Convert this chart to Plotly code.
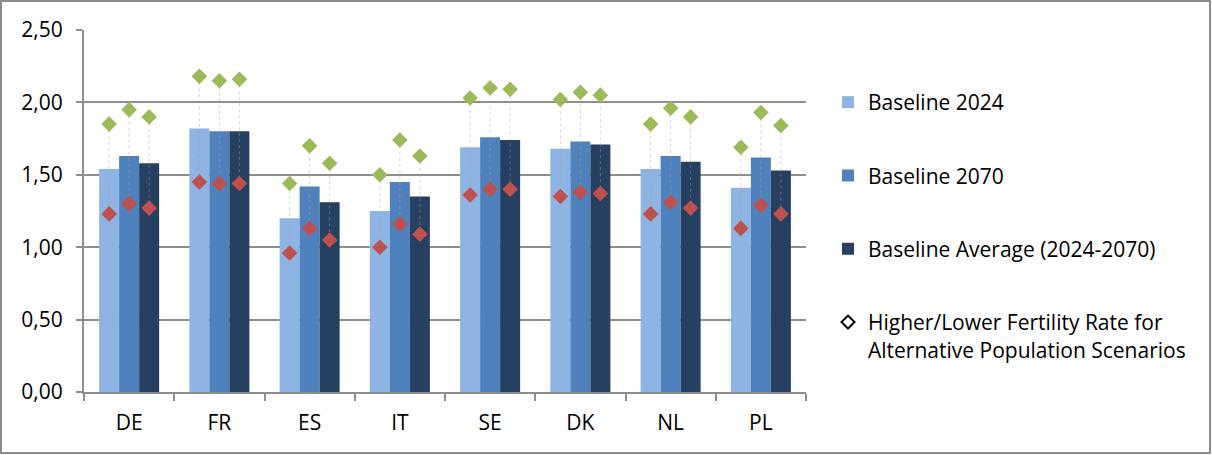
import plotly.graph_objects as go

countries = ["DE", "FR", "ES", "IT", "SE", "DK", "NL", "PL"]

baseline_2024 = [1.54, 1.82, 1.20, 1.25, 1.69, 1.68, 1.54, 1.41]
baseline_2070 = [1.63, 1.80, 1.42, 1.45, 1.76, 1.73, 1.63, 1.62]
baseline_avg = [1.58, 1.80, 1.31, 1.35, 1.74, 1.71, 1.59, 1.53]

higher_2024 = [1.85, 2.18, 1.44, 1.50, 2.03, 2.02, 1.85, 1.69]
higher_2070 = [1.95, 2.15, 1.70, 1.74, 2.10, 2.07, 1.96, 1.93]
higher_avg = [1.90, 2.16, 1.58, 1.63, 2.09, 2.05, 1.90, 1.84]

lower_2024 = [1.23, 1.45, 0.96, 1.00, 1.36, 1.35, 1.23, 1.13]
lower_2070 = [1.30, 1.44, 1.13, 1.16, 1.40, 1.38, 1.31, 1.29]
lower_avg = [1.27, 1.44, 1.05, 1.09, 1.40, 1.37, 1.27, 1.23]

series_names = ["Baseline 2024", "Baseline 2070", "Baseline Average (2024-2070)"]
scenario_name = "Higher/Lower Fertility Rate for<br>Alternative Population Scenarios"

bar_colors = ["#8DB4E2", "#4F81BD", "#254061"]
green = "#9BBB59"
red = "#C0504D"
grid = "#8E8E8E"
FONT = "Open Sans"
FSIZE = 21

BARGAP = 0.335
bar_w = (1 - BARGAP) / 3
offsets = [-bar_w, 0.0, bar_w]

fig = go.Figure()

for i, (name, vals) in enumerate(zip(series_names, [baseline_2024, baseline_2070, baseline_avg])):
    fig.add_trace(go.Bar(
        x=countries, y=vals, name=name,
        marker=dict(color=bar_colors[i], line=dict(width=0)),
        legendgroup=f"g{i}", showlegend=True,
    ))

highs = [higher_2024, higher_2070, higher_avg]
lows = [lower_2024, lower_2070, lower_avg]

# high-low connectors between scenario markers
lx, ly = [], []
for k in range(3):
    for c in range(len(countries)):
        xpos = c + offsets[k]
        lx += [xpos, xpos, None]
        ly += [highs[k][c], lows[k][c], None]
fig.add_trace(go.Scatter(
    x=lx, y=ly, mode="lines", xaxis="x2",
    line=dict(color="rgba(200,150,140,0.45)", width=1, dash="dot"),
    showlegend=False, hoverinfo="skip",
))

for k in range(3):
    xs = [c + offsets[k] for c in range(len(countries))]
    fig.add_trace(go.Scatter(
        x=xs, y=highs[k], mode="markers", xaxis="x2",
        marker=dict(symbol="diamond", size=12, color=green),
        showlegend=False,
    ))
    fig.add_trace(go.Scatter(
        x=xs, y=lows[k], mode="markers", xaxis="x2",
        marker=dict(symbol="diamond", size=12, color=red),
        showlegend=False,
    ))

# legend entry for the scenario markers
fig.add_trace(go.Scatter(
    x=[None], y=[None], mode="markers", name=scenario_name,
    marker=dict(symbol="diamond-open", size=10, color="black", line=dict(width=2)),
    legendgroup="g3", showlegend=True,
))

L, R, T, B = 84, 406, 30, 63
W, H = 1212, 455
pw, ph = W - L - R, H - T - B

fig.update_layout(
    width=W, height=H,
    margin=dict(l=L, r=R, t=T, b=B, autoexpand=False),
    paper_bgcolor="white", plot_bgcolor="white",
    barmode="group", bargap=BARGAP, bargroupgap=0,
    separators=",.",
    font=dict(family=FONT, size=FSIZE, color="#000000"),
    showlegend=True,
    legend=dict(
        x=(828 - L) / pw, xanchor="left",
        y=(392 - 82) / ph, yanchor="top",
        traceorder="grouped", tracegroupgap=43, valign="top",
        font=dict(family=FONT, size=FSIZE, color="#000000"),
        bgcolor="rgba(0,0,0,0)", itemwidth=30,
    ),
    xaxis=dict(
        type="category", showgrid=False,
        showline=True, linecolor=grid, linewidth=2,
        ticks="outside", ticklen=7, tickcolor=grid, tickwidth=2,
        tickson="boundaries",
        tickfont=dict(family=FONT, size=FSIZE),
        ticklabelstandoff=11,
    ),
    xaxis2=dict(
        overlaying="x", range=[-0.5, len(countries) - 0.5],
        visible=False,
    ),
    yaxis=dict(
        range=[0, 2.5], dtick=0.5, tickformat=".2f",
        showgrid=True, gridcolor=grid, gridwidth=2,
        showline=True, linecolor=grid, linewidth=2,
        ticks="outside", ticklen=6, tickcolor=grid, tickwidth=2,
        tickfont=dict(family=FONT, size=FSIZE),
        zeroline=False, ticklabelstandoff=9,
    ),
    shapes=[dict(
        type="rect", xref="paper", yref="paper",
        x0=(1 - L) / pw, x1=(W - 2 - L) / pw,
        y0=-(B - 2) / ph, y1=(H - B - 1) / ph,
        line=dict(color="#8C8C8C", width=2),
    )],
)

fig.write_html("out.html")
